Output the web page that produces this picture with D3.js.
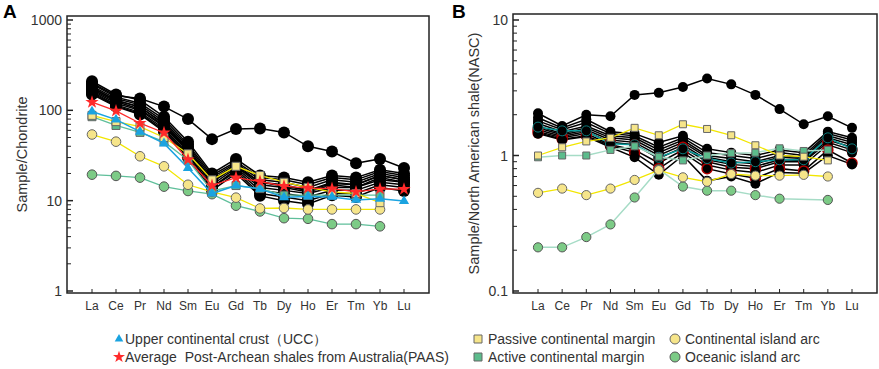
<!DOCTYPE html>
<html>
<head>
<meta charset="utf-8">
<script src="https://cdn.jsdelivr.net/npm/d3@7"></script>
<style>
  body { margin: 0; background: #fff; }
  text { font-family: Arial, "Liberation Sans", sans-serif; }
</style>
</head>
<body>
<div class="chart"></div>
<script>
// REE 元素
const elements = ["La", "Ce", "Pr", "Nd", "Sm", "Eu", "Gd", "Tb", "Dy", "Ho", "Er", "Tm", "Yb", "Lu"]

// A: 球粒隕石標準化
const aTicks = [1, 10, 100, 1000]
const aSamples = [
  [200, 145, 135, 110, 80, 48, 62, 63, 57, 40, 35, 26, 29, 23],
  [210, 150, 130, 85, 45, 20, 29, 19, 18, 16, 19, 18, 22, 20],
  [195, 140, 120, 80, 42, 19, 27, 18, 17, 15, 18, 17, 21, 19],
  [185, 135, 115, 75, 40, 18, 26, 17, 16, 14, 17, 16, 20, 18],
  [180, 128, 110, 70, 37, 17, 24, 16, 14.5, 13, 15.5, 15, 19, 17],
  [175, 130, 108, 72, 38, 17, 25, 16, 15, 13, 16, 15, 19, 17],
  [170, 125, 103, 68, 36, 16, 24, 15, 14, 12.5, 15, 14, 18, 16],
  [165, 120, 100, 66, 35, 15, 23, 14, 13, 12, 14, 14, 17, 16],
  [160, 115, 95, 63, 33, 14, 22, 13, 12, 11, 13, 13, 16, 15],
  [155, 112, 92, 60, 32, 14, 21, 12, 11, 10, 12, 12, 15, 14],
  [150, 110, 90, 58, 30, 13, 20, 11.3, 10, 9.2, 11.5, 11, 14, 12.8]
]
const aPassive = [88, 75, 66, 50, 33, 17, 24, 19, 16, 14, 12.5, 12, 9.5, null]
const aActive = [85, 68, 57, 45, 28, 12.8, 14.7, 13.6, 11.5, 11.5, 11.5, 11.5, 11.5, null]
const aContArc = [54, 45, 31, 24, 15, 12.5, 10.8, 8.2, 8.3, 8, 8, 8, 8, null]
const aOceanArc = [19.4, 18.8, 18, 14.3, 12.8, 11.8, 8.8, 7.6, 6.4, 6.3, 5.5, 5.5, 5.2, null]
const aUCC = [97, 79, 58, 43, 23, 12, 14.7, 13.5, 10.9, 11.1, 11, 10.2, 10.5, 9.9]
const aPAAS = [123, 98.5, 72, 56.5, 28.5, 14.7, 18, 16.3, 14.5, 13.8, 13.6, 12.5, 13.5, 13.4]

// B: 北美頁岩標準化
const bTicks = [0.1, 1, 10]
const bSamples = [
  [2.05, 1.65, 2.0, 1.95, 2.8, 2.9, 3.2, 3.7, 3.35, 2.8, 2.2, 1.7, 1.95, 1.6],
  [1.9, 1.6, 1.85, 1.5, 1.45, 1.25, 1.4, 1.12, 1.05, 1.0, 1.1, 1.05, 1.5, 1.35],
  [1.8, 1.55, 1.75, 1.45, 1.4, 1.15, 1.35, 1.05, 1.0, 0.95, 1.05, 1.0, 1.45, 1.3],
  [1.72, 1.5, 1.65, 1.4, 1.35, 1.1, 1.3, 1.0, 0.95, 0.9, 1.0, 0.97, 1.4, 1.25],
  [1.65, 1.45, 1.6, 1.35, 1.3, 1.05, 1.25, 0.97, 0.9, 0.87, 0.97, 0.95, 1.35, 1.2],
  [1.6, 1.42, 1.55, 1.3, 1.25, 1.0, 1.2, 0.93, 0.86, 0.83, 0.93, 0.92, 1.3, 1.15],
  [1.55, 1.38, 1.5, 1.25, 1.2, 0.95, 1.15, 0.9, 0.82, 0.8, 0.9, 0.9, 1.25, 1.1],
  [1.5, 1.35, 1.45, 1.2, 1.1, 0.88, 1.1, 0.85, 0.78, 0.75, 0.85, 0.85, 1.2, 1.05],
  [1.47, 1.32, 1.4, 1.18, 1.05, 0.8, 1.05, 0.8, 0.73, 0.68, 0.8, 0.77, 1.1, 0.88],
  [1.45, 1.3, 1.38, 1.15, 0.97, 0.72, 1.0, 0.65, 0.7, 0.62, 0.75, 0.74, 1.0, 0.86]
]
const bRedEdge = [6, 8]   // 紅框樣品
const bTealLine = [1.62, 1.52, 1.52, 1.22, 1.2, 0.97, 1.12, 0.95, 0.88, 0.9, 0.93, 0.93, 1.35, 1.12]
const bPassive = [1.0, 1.15, 1.27, 1.35, 1.6, 1.41, 1.7, 1.57, 1.41, 1.19, 1.0, 0.98, 0.92, null]
const bActive = [0.97, 1.0, 1.0, 1.1, 1.17, 0.98, 0.92, 1.0, 1.04, 1.05, 1.13, 1.08, 1.1, null]
const bContArc = [0.53, 0.57, 0.51, 0.57, 0.66, 0.78, 0.69, 0.64, 0.73, 0.71, 0.71, 0.72, 0.7, null]
const bOceanArc = [0.21, 0.21, 0.25, 0.31, 0.49, 0.79, 0.59, 0.55, 0.55, 0.51, 0.48, null, 0.47, null]

// 顏色
const yellowLine = "#f2e600"
const yellowFill = "#f6e58a"
const greenSqFill = "#5cbc8c"
const greenCircFill = "#7ccb86"
const blue = "#1aa3e0"
const red = "#ff2a2a"

const svgWidth = 879
const svgHeight = 369
const svg = d3.select('.chart')
  .append('svg')
  .attr('width', svgWidth)
  .attr('height', svgHeight)

function toPoints(vals) {
  return elements.map((e, i) => ({ e: e, v: vals[i] })).filter(d => d.v != null)
}

// 建立一個圖框和軸
function panel(box, ticks, domain, yRange, label, title, titleX) {
  const g = svg.append('g')
  const xScale = d3.scalePoint()
    .domain(elements)
    .range([box.left + 25, box.right - 25])
  const yScale = d3.scaleLog()
    .domain(domain)
    .range(yRange)

  // 框
  g.append('rect')
    .attr('x', box.left).attr('y', box.top)
    .attr('width', box.right - box.left).attr('height', box.bottom - box.top)
    .attr('fill', 'none').attr('stroke', '#222').attr('stroke-width', 1.5)

  // 對數刻度 (內側)
  const minor = []
  for (let d = domain[0]; d < domain[1]; d *= 10) {
    for (let k = 2; k < 10; k++) minor.push(d * k)
  }
  g.selectAll('.minor').data(minor).enter().append('line')
    .attr('x1', box.left).attr('x2', box.left + 4)
    .attr('y1', d => yScale(d)).attr('y2', d => yScale(d))
    .attr('stroke', '#222')
  g.selectAll('.major').data(ticks).enter().append('line')
    .attr('x1', box.left).attr('x2', box.left + 6)
    .attr('y1', d => yScale(d)).attr('y2', d => yScale(d))
    .attr('stroke', '#222').attr('stroke-width', 1.5)
  g.selectAll('.ylab').data(ticks).enter().append('text')
    .attr('x', box.left - 5)
    .attr('y', d => yScale(d) + 5)
    .attr('text-anchor', 'end')
    .attr('font-size', 14)
    .attr('fill', '#333')
    .text(d => d)

  // X 軸
  g.selectAll('.xtick').data(elements).enter().append('line')
    .attr('x1', d => xScale(d)).attr('x2', d => xScale(d))
    .attr('y1', box.bottom).attr('y2', box.bottom - 4)
    .attr('stroke', '#222')
  g.selectAll('.xlab').data(elements).enter().append('text')
    .attr('x', d => xScale(d))
    .attr('y', box.bottom + 17)
    .attr('text-anchor', 'middle')
    .attr('font-size', 12)
    .attr('fill', '#333')
    .text(d => d)

  // 標題
  g.append('text')
    .attr('x', label.x).attr('y', 18)
    .attr('font-size', 19).attr('font-weight', 'bold')
    .text(label.t)
  g.append('text')
    .attr('transform', `translate(${titleX}, ${(box.top + box.bottom) / 2}) rotate(-90)`)
    .attr('text-anchor', 'middle')
    .attr('font-size', 14.5)
    .attr('fill', '#333')
    .text(title)

  return { g: g, x: xScale, y: yScale }
}

function drawLine(p, vals, color, width) {
  const line = d3.line().x(d => p.x(d.e)).y(d => p.y(d.v))
  p.g.append('path')
    .datum(toPoints(vals))
    .attr('d', line)
    .attr('fill', 'none')
    .attr('stroke', color)
    .attr('stroke-width', width)
}

function drawCircles(p, vals, r, fill, stroke, sw) {
  p.g.append('g').selectAll('circle')
    .data(toPoints(vals))
    .enter()
    .append('circle')
    .attr('cx', d => p.x(d.e))
    .attr('cy', d => p.y(d.v))
    .attr('r', r)
    .attr('fill', fill)
    .attr('stroke', stroke)
    .attr('stroke-width', sw)
}

function drawSymbols(p, vals, type, size, fill, stroke) {
  p.g.append('g').selectAll('path')
    .data(toPoints(vals))
    .enter()
    .append('path')
    .attr('transform', d => `translate(${p.x(d.e)}, ${p.y(d.v)})`)
    .attr('d', d3.symbol().type(type).size(size))
    .attr('fill', fill)
    .attr('stroke', stroke)
    .attr('stroke-width', 1)
}

// ---------- A ----------
const pA = panel({ left: 67, right: 429, top: 16, bottom: 293 }, aTicks, [1, 1000], [291, 20],
  { x: 3, t: "A" }, "Sample/Chondrite", 27)

aSamples.forEach(s => drawLine(pA, s, '#000', 1.5))
aSamples.forEach(s => drawCircles(pA, s, 6, '#000', 'none', 0))
drawLine(pA, aOceanArc, '#5fbf9a', 1.3)
drawCircles(pA, aOceanArc, 4.8, greenCircFill, '#555', 1)
drawLine(pA, aContArc, yellowLine, 1.3)
drawCircles(pA, aContArc, 4.8, yellowFill, '#666', 1)
drawLine(pA, aActive, '#5fbf9a', 1.3)
drawSymbols(pA, aActive, d3.symbolSquare, 64, greenSqFill, '#666')
drawLine(pA, aPassive, yellowLine, 1.3)
drawSymbols(pA, aPassive, d3.symbolSquare, 64, yellowFill, '#666')
drawLine(pA, aUCC, blue, 1.5)
drawSymbols(pA, aUCC, d3.symbolTriangle, 45, blue, 'none')
drawLine(pA, aPAAS, red, 1.3)
drawSymbols(pA, aPAAS, d3.symbolStar, 55, red, 'none')

// ---------- B ----------
const pB = panel({ left: 513, right: 877, top: 14, bottom: 293 }, bTicks, [0.1, 10], [291, 20],
  { x: 452, t: "B" }, "Sample/North American shale(NASC)", 479)

bSamples.forEach(s => drawLine(pB, s, '#000', 1.5))
drawLine(pB, bTealLine, '#0a9c9c', 1.5)
bSamples.forEach((s, i) => {
  if (bRedEdge.includes(i)) drawCircles(pB, s, 5, '#000', '#b00000', 1.5)
  else drawCircles(pB, s, 5, '#000', 'none', 0)
})
drawCircles(pB, bTealLine, 5, '#000', '#0a7c7c', 1)
drawLine(pB, bOceanArc, '#a6dcc6', 1.5)
drawCircles(pB, bOceanArc, 4.6, greenCircFill, '#555', 1)
drawLine(pB, bContArc, yellowLine, 1.3)
drawCircles(pB, bContArc, 4.6, yellowFill, '#666', 1)
drawLine(pB, bActive, '#a6dcc6', 1.5)
drawSymbols(pB, bActive, d3.symbolSquare, 49, greenSqFill, '#666')
drawLine(pB, bPassive, yellowLine, 1.3)
drawSymbols(pB, bPassive, d3.symbolSquare, 49, yellowFill, '#666')

// ---------- 圖例 ----------
const legend = svg.append('g')
const legendItems = [
  { type: 'tri', x: 119, y: 340, t: "Upper continental crust（UCC）" },
  { type: 'star', x: 119, y: 358, t: "Average  Post-Archean shales from Australia(PAAS)" },
  { type: 'sqY', x: 478, y: 340, t: "Passive continental margin" },
  { type: 'sqG', x: 478, y: 358, t: "Active continental margin" },
  { type: 'cY', x: 675, y: 340, t: "Continental island arc" },
  { type: 'cG', x: 675, y: 358, t: "Oceanic island arc" }
]
legendItems.forEach(d => {
  let sym
  if (d.type == 'tri') sym = legend.append('path').attr('d', d3.symbol().type(d3.symbolTriangle).size(32)).attr('fill', blue)
  if (d.type == 'star') sym = legend.append('path').attr('d', d3.symbol().type(d3.symbolStar).size(45)).attr('fill', red)
  if (d.type == 'sqY') sym = legend.append('path').attr('d', d3.symbol().type(d3.symbolSquare).size(64)).attr('fill', yellowFill).attr('stroke', '#666')
  if (d.type == 'sqG') sym = legend.append('path').attr('d', d3.symbol().type(d3.symbolSquare).size(64)).attr('fill', greenSqFill).attr('stroke', '#666')
  if (d.type == 'cY') sym = legend.append('circle').attr('r', 5).attr('fill', yellowFill).attr('stroke', '#666')
  if (d.type == 'cG') sym = legend.append('circle').attr('r', 5).attr('fill', greenCircFill).attr('stroke', '#555')
  sym.attr('transform', `translate(${d.x}, ${d.y - 1})`)
  legend.append('text')
    .attr('x', d.type == 'tri' || d.type == 'star' ? d.x + 6 : d.x + 10)
    .attr('y', d.y + 4)
    .attr('font-size', 14)
    .attr('fill', '#333')
    .style('white-space', 'pre')
    .text(d.t)
})
</script>
</body>
</html>
